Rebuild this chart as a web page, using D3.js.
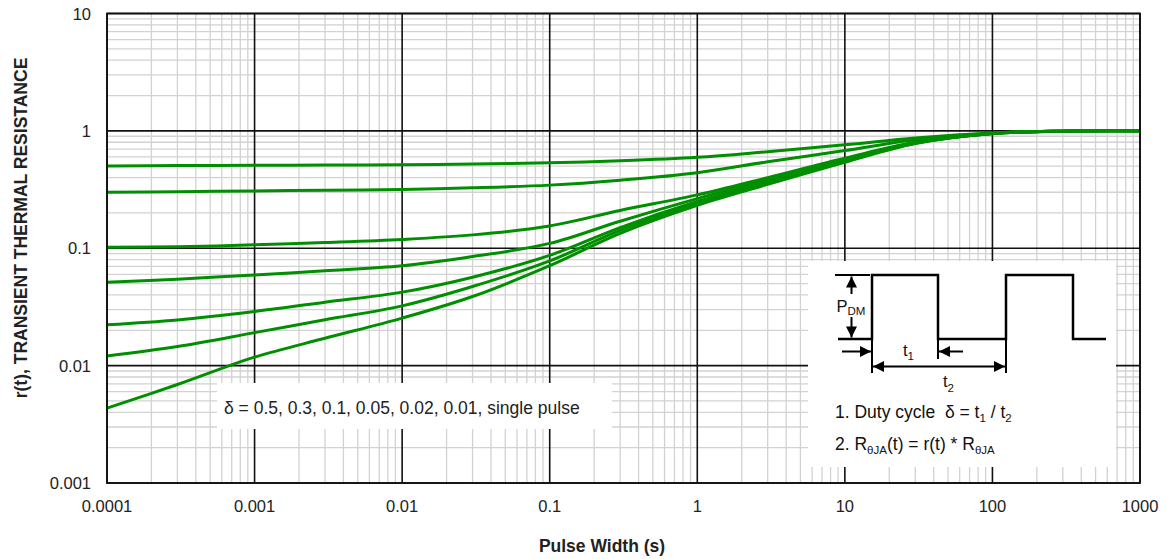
<!DOCTYPE html>
<html>
<head>
<meta charset="utf-8">
<script src="https://cdn.jsdelivr.net/npm/d3@7"></script>
<style>
  body { margin: 0; background: #fff; }
  text { font-family: "Liberation Sans", Arial, sans-serif; white-space: pre; }
</style>
</head>
<body>
<script>
// pulse width samples (s)
let pulseWidth = [0.0001, 0.0003, 0.001, 0.003, 0.01, 0.03, 0.1, 0.3, 1, 3, 10, 30, 100, 300, 1000];

// r(t) for each duty cycle
let duty05 = [0.503, 0.506, 0.51, 0.511, 0.514, 0.522, 0.535, 0.556, 0.595, 0.665, 0.76, 0.87, 0.96, 0.995, 1.0];
let duty03 = [0.300, 0.303, 0.308, 0.312, 0.317, 0.327, 0.345, 0.38, 0.44, 0.545, 0.68, 0.84, 0.955, 0.995, 1.0];
let duty01 = [0.102, 0.103, 0.107, 0.112, 0.119, 0.13, 0.155, 0.21, 0.285, 0.40, 0.585, 0.80, 0.95, 0.995, 1.0];
let duty005 = [0.0514, 0.0545, 0.0593, 0.0642, 0.0708, 0.085, 0.11, 0.17, 0.265, 0.385, 0.57, 0.795, 0.95, 0.995, 1.0];
let duty002 = [0.0223, 0.0245, 0.0289, 0.0347, 0.0423, 0.0567, 0.087, 0.15, 0.25, 0.37, 0.56, 0.79, 0.95, 0.995, 1.0];
let duty001 = [0.0121, 0.01455, 0.0191, 0.0246, 0.0323, 0.0472, 0.078, 0.142, 0.242, 0.36, 0.55, 0.785, 0.95, 0.995, 1.0];
let singlePulse = [0.00434, 0.0069, 0.0118, 0.0171, 0.0254, 0.0388, 0.071, 0.134, 0.232, 0.35, 0.54, 0.78, 0.95, 0.995, 1.0];

let series = [duty05, duty03, duty01, duty005, duty002, duty001, singlePulse];

let xTicks = [0.0001, 0.001, 0.01, 0.1, 1, 10, 100, 1000];
let xTickLabels = ["0.0001", "0.001", "0.01", "0.1", "1", "10", "100", "1000"];
let yTicks = [0.001, 0.01, 0.1, 1, 10];
let yTickLabels = ["0.001", "0.01", "0.1", "1", "10"];

let width = 1169;
let height = 559;
let padding = { top: 13.5, right: 29, bottom: 76, left: 107 };

let svg = d3.select("body")
    .append("svg")
    .attr("width", width)
    .attr("height", height);

let xScale = d3.scaleLog()
    .domain([0.0001, 1000])
    .range([padding.left, width - padding.right]);
let yScale = d3.scaleLog()
    .domain([0.001, 10])
    .range([height - padding.bottom, padding.top]);

// minor grid values 2..9 in each decade
let xMinor = [];
for (let i = 0; i < xTicks.length - 1; i++) {
    for (let m = 2; m <= 9; m++) xMinor.push(xTicks[i] * m);
}
let yMinor = [];
for (let i = 0; i < yTicks.length - 1; i++) {
    for (let m = 2; m <= 9; m++) yMinor.push(yTicks[i] * m);
}

let grid = svg.append("g");
grid.selectAll("nothing")
    .data(xMinor)
    .join("line")
    .attr("x1", (d) => xScale(d)).attr("x2", (d) => xScale(d))
    .attr("y1", yScale(10)).attr("y2", yScale(0.001))
    .attr("stroke", "#d2d2d2")
    .attr("stroke-width", 1.3);
grid.selectAll("nothing")
    .data(yMinor)
    .join("line")
    .attr("y1", (d) => yScale(d)).attr("y2", (d) => yScale(d))
    .attr("x1", xScale(0.0001)).attr("x2", xScale(1000))
    .attr("stroke", "#d2d2d2")
    .attr("stroke-width", 1.3);
grid.selectAll("nothing")
    .data(xTicks)
    .join("line")
    .attr("x1", (d) => xScale(d)).attr("x2", (d) => xScale(d))
    .attr("y1", yScale(10)).attr("y2", yScale(0.001))
    .attr("stroke", "#111")
    .attr("stroke-width", 1.6);
grid.selectAll("nothing")
    .data(yTicks)
    .join("line")
    .attr("y1", (d) => yScale(d)).attr("y2", (d) => yScale(d))
    .attr("x1", xScale(0.0001)).attr("x2", xScale(1000))
    .attr("stroke", "#111")
    .attr("stroke-width", 1.6);

// legend text box
let legendBox = svg.append("g");
legendBox.append("rect")
    .attr("x", 217).attr("y", 383)
    .attr("width", 395).attr("height", 46)
    .attr("fill", "#fff");
legendBox.append("text")
    .attr("x", 224).attr("y", 414)
    .style("font-size", "17.5px")
    .attr("fill", "#222")
    .text("δ = 0.5, 0.3, 0.1, 0.05, 0.02, 0.01, single pulse");

// curves
let line = d3.line()
    .x((d) => xScale(d[0]))
    .y((d) => yScale(d[1]))
    .curve(d3.curveCatmullRom.alpha(0.5));

svg.append("g")
    .selectAll("path")
    .data(series)
    .join("path")
    .attr("d", (s) => line(pulseWidth.map((x, i) => [x, s[i]])))
    .attr("fill", "none")
    .attr("stroke", "#008f00")
    .attr("stroke-width", 3);

// tick labels
svg.append("g")
    .selectAll("text")
    .data(xTicks)
    .join("text")
    .attr("x", (d) => xScale(d))
    .attr("y", yScale(0.001) + 29)
    .attr("text-anchor", "middle")
    .style("font-size", "16.5px")
    .attr("fill", "#222")
    .text((d, i) => xTickLabels[i]);
svg.append("g")
    .selectAll("text")
    .data(yTicks)
    .join("text")
    .attr("x", 91)
    .attr("y", (d) => yScale(d) + 6)
    .attr("text-anchor", "end")
    .style("font-size", "16.5px")
    .attr("fill", "#222")
    .text((d, i) => yTickLabels[i]);

// axis titles
svg.append("text")
    .attr("x", 602)
    .attr("y", 552)
    .attr("text-anchor", "middle")
    .style("font-size", "17.5px")
    .style("font-weight", "bold")
    .attr("fill", "#222")
    .text("Pulse Width (s)");
svg.append("text")
    .attr("transform", "translate(27, 228) rotate(-90)")
    .attr("text-anchor", "middle")
    .style("font-size", "17.5px")
    .style("font-weight", "bold")
    .attr("fill", "#222")
    .text("r(t), TRANSIENT THERMAL RESISTANCE");

// inset with the pulse diagram
let inset = svg.append("g").attr("transform", "translate(808, 261)");
inset.append("rect")
    .attr("width", 308).attr("height", 206)
    .attr("fill", "#fff");

svg.append("defs").append("marker")
    .attr("id", "arrow")
    .attr("viewBox", "0 0 10 10")
    .attr("refX", 10).attr("refY", 5)
    .attr("markerWidth", 6).attr("markerHeight", 5.5)
    .attr("orient", "auto-start-reverse")
    .append("path")
    .attr("d", "M0,0 L10,5 L0,10 z")
    .attr("fill", "#000");

let lo = 78, hi = 14;
let wave = [[30, lo], [64, lo], [64, hi], [130, hi], [130, lo], [198, lo], [198, hi], [265, hi], [265, lo], [298, lo]];
inset.append("path")
    .attr("d", d3.line()(wave))
    .attr("fill", "none")
    .attr("stroke", "#000")
    .attr("stroke-width", 2.5);

function seg(x1, y1, x2, y2, m1, m2) {
    let l = inset.append("line")
        .attr("x1", x1).attr("y1", y1).attr("x2", x2).attr("y2", y2)
        .attr("stroke", "#000").attr("stroke-width", 2);
    if (m1) l.attr("marker-start", "url(#arrow)");
    if (m2) l.attr("marker-end", "url(#arrow)");
}
// P_DM arrows
seg(27, hi, 62, hi);
seg(43.5, 33, 43.5, hi + 1.5, false, true);
seg(43.5, 56, 43.5, lo - 1.5, false, true);
// t1 arrows
seg(34, 90.5, 63, 90.5, false, true);
seg(155, 90.5, 131, 90.5, false, true);
// extension lines
seg(64, lo, 64, 112);
seg(130, lo, 130, 98);
seg(198, lo, 198, 112);
// t2 double arrow
seg(65, 105.5, 197, 105.5, true, true);

function label(x, y, main, sub, size, subSize, drop) {
    let t = inset.append("text")
        .attr("x", x).attr("y", y)
        .style("font-size", size + "px")
        .attr("fill", "#111");
    t.append("tspan").text(main);
    t.append("tspan").attr("dy", drop).style("font-size", subSize + "px").text(sub);
    return t;
}
label(28.5, 51, "P", "DM", 16.5, 11.5, 3);
label(95, 95, "t", "1", 16.5, 11.5, 4);
label(135, 126, "t", "2", 16.5, 11.5, 5);

let note1 = inset.append("text")
    .attr("x", 27).attr("y", 157)
    .style("font-size", "17.5px")
    .attr("fill", "#111");
note1.append("tspan").text("1. Duty cycle  δ = t");
note1.append("tspan").attr("dy", 4).style("font-size", "11.5px").text("1");
note1.append("tspan").attr("dy", -4).text(" / t");
note1.append("tspan").attr("dy", 4).style("font-size", "11.5px").text("2");

let note2 = inset.append("text")
    .attr("x", 27).attr("y", 189)
    .style("font-size", "17.5px")
    .attr("fill", "#111");
note2.append("tspan").text("2. R");
note2.append("tspan").attr("dy", 4).style("font-size", "11.5px").text("θJA");
note2.append("tspan").attr("dy", -4).text("(t) = r(t) * R");
note2.append("tspan").attr("dy", 4).style("font-size", "11.5px").text("θJA");

// plot border
svg.append("rect")
    .attr("x", xScale(0.0001)).attr("y", yScale(10))
    .attr("width", xScale(1000) - xScale(0.0001))
    .attr("height", yScale(0.001) - yScale(10))
    .attr("fill", "none")
    .attr("stroke", "#111")
    .attr("stroke-width", 1.8);
</script>
</body>
</html>
